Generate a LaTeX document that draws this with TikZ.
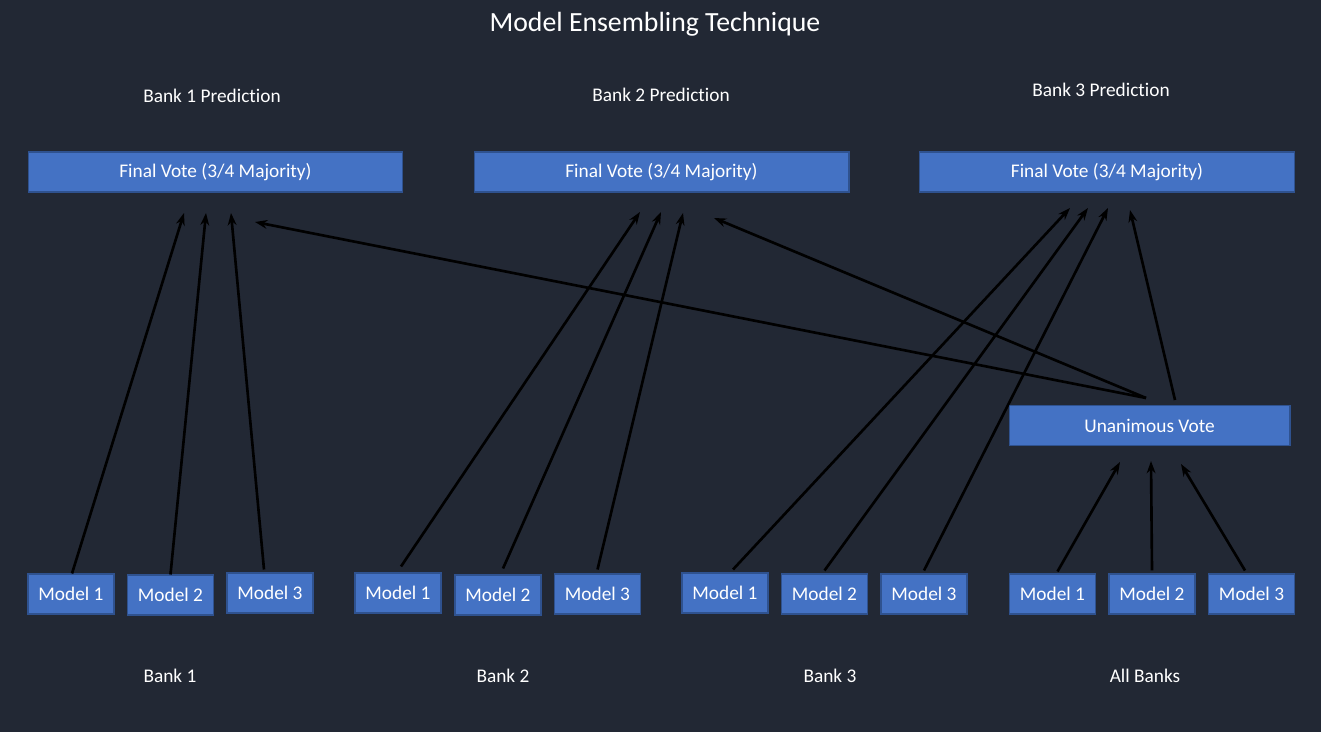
\documentclass[tikz,border=0pt]{standalone}
\usepackage{fontspec}
\setmainfont{Carlito}[Ligatures=NoCommon]
\usetikzlibrary{arrows.meta}
\definecolor{bgnavy}{HTML}{222834}
\definecolor{boxblue}{HTML}{4472C4}
\definecolor{boxedge}{HTML}{2F528F}
\tikzset{
  votebox/.style={draw=boxedge, fill=boxblue, text=white, line width=0.6pt,
    minimum width=7.5cm, minimum height=0.8cm, inner sep=0pt, font=\fontsize{11}{13}\selectfont},
  modelbox/.style={draw=boxedge, fill=boxblue, text=white, line width=0.6pt,
    minimum width=1.72cm, minimum height=0.8cm, inner sep=0pt, font=\fontsize{11}{13}\selectfont},
  lbl/.style={text=white, font=\fontsize{11}{13}\selectfont},
  feed/.style={-{Stealth[length=7pt,width=5pt]}, line width=1.5pt, black}
}
\begin{document}
\begin{tikzpicture}[x=0.02cm, y=-0.02cm]
\fill[bgnavy] (0,0) rectangle (1321,732);
\useasboundingbox (0,0) rectangle (1321,732);

\node[text=white, font=\fontsize{15.8}{18}\selectfont] (title) at (655,24) {Model Ensembling Technique};

\node[lbl] (p1) at (212,96) {Bank 1 Prediction};
\node[lbl] (p2) at (661,95) {Bank 2 Prediction};
\node[lbl] (p3) at (1101,90) {Bank 3 Prediction};

\node[votebox] (fv1) at (215.5,172) {Final Vote (3/4 Majority)};
\node[votebox] (fv2) at (661.5,172) {Final Vote (3/4 Majority)};
\node[votebox] (fv3) at (1107,172) {Final Vote (3/4 Majority)};

\node[votebox, minimum width=5.62cm] (uv) at (1149.5,425.5) {Unanimous Vote};

\node[modelbox] (a1) at (71,594) {Model 1};
\node[modelbox] (a2) at (170.5,595) {Model 2};
\node[modelbox] (a3) at (270,593) {Model 3};
\node[modelbox] (b1) at (398,593) {Model 1};
\node[modelbox] (b2) at (498,595) {Model 2};
\node[modelbox] (b3) at (597.5,594) {Model 3};
\node[modelbox] (c1) at (725,593) {Model 1};
\node[modelbox] (c2) at (824.5,594) {Model 2};
\node[modelbox] (c3) at (924,594) {Model 3};
\node[modelbox] (d1) at (1052.5,594) {Model 1};
\node[modelbox] (d2) at (1152,594) {Model 2};
\node[modelbox] (d3) at (1251.5,594) {Model 3};

\node[lbl] (n1) at (170,676) {Bank 1};
\node[lbl] (n2) at (503,676) {Bank 2};
\node[lbl] (n3) at (830,676) {Bank 3};
\node[lbl] (n4) at (1145,676) {All Banks};

% arrow ends under the vote boxes
\coordinate (t1a) at (184,213);
\coordinate (t1b) at (206,213);
\coordinate (t1c) at (231,213);
\coordinate (t1u) at (255,222);
\coordinate (t2a) at (640,212);
\coordinate (t2b) at (661,212);
\coordinate (t2c) at (683,213);
\coordinate (t2u) at (714,218);
\coordinate (t3a) at (1070,208);
\coordinate (t3b) at (1088,208);
\coordinate (t3c) at (1108,208);
\coordinate (t3u) at (1130,210);
\coordinate (tua) at (1120,462);
\coordinate (tub) at (1151,461);
\coordinate (tuc) at (1181,464);
\coordinate (ua) at (1146,398);
\coordinate (ub) at (1175,400);

\draw[feed] ([xshift=0.02cm]a1.north) -- (t1a);
\draw[feed] (a2.north) -- (t1b);
\draw[feed] ([xshift=-0.12cm, yshift=0.06cm]a3.north) -- (t1c);
\draw[feed] (ua) -- (t1u);

\draw[feed] ([xshift=0.06cm, yshift=0.12cm]b1.north) -- (t2a);
\draw[feed] ([xshift=0.1cm, yshift=0.12cm]b2.north) -- (t2b);
\draw[feed] ([yshift=0.08cm]b3.north) -- (t2c);
\draw[feed] (ua) -- (t2u);

\draw[feed] ([xshift=0.16cm, yshift=0.06cm]c1.north) -- (t3a);
\draw[feed] ([yshift=0.06cm]c2.north) -- (t3b);
\draw[feed] ([yshift=0.06cm]c3.north) -- (t3c);
\draw[feed] (ub) -- (t3u);

\draw[feed] ([xshift=0.1cm, yshift=0.04cm]d1.north) -- (tua);
\draw[feed] ([yshift=0.06cm]d2.north) -- (tub);
\draw[feed] ([xshift=-0.13cm, yshift=0.06cm]d3.north) -- (tuc);
\end{tikzpicture}
\end{document}
